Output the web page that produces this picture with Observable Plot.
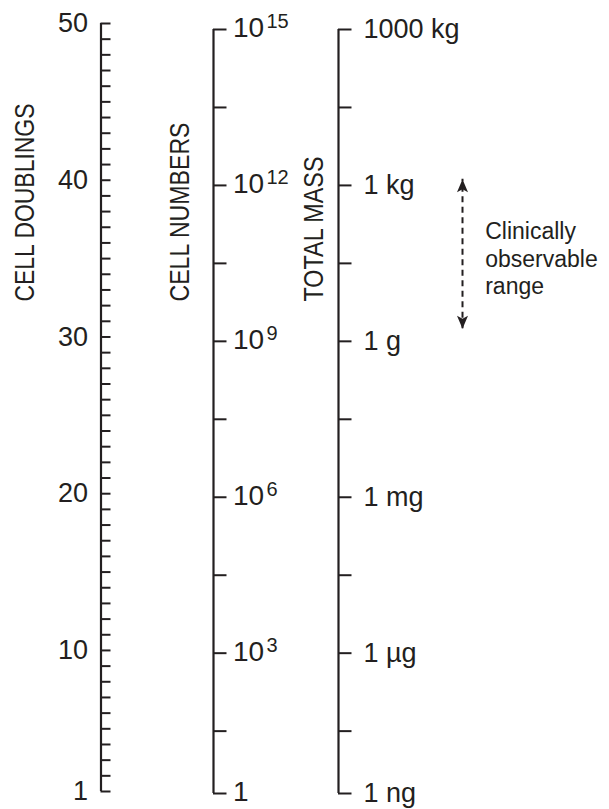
<!DOCTYPE html>
<html>
<head>
<meta charset="utf-8">
<script src="https://cdn.jsdelivr.net/npm/d3@7"></script>
<script src="https://cdn.jsdelivr.net/npm/@observablehq/plot@0.6"></script>
<style>
  html, body { margin: 0; padding: 0; background: #fff; }
  #chart { position: relative; width: 609px; height: 809px; background: #fff; }
  #chart svg { position: absolute; left: 0; top: 0; }
</style>
</head>
<body>
<div id="chart"></div>
<script>
// ---------------- data ----------------
const doublingTicks = [1,2,3,4,5,6,7,8,9,10,11,12,13,14,15,16,17,18,19,20,21,22,23,24,25,26,27,28,29,30,31,32,33,34,35,36,37,38,39,40,41,42,43,44,45,46,47,48,49,50];
const doublingLabels = [1, 10, 20, 30, 40, 50];
// cell-number and mass ticks, expressed in cell-doubling units
const cellTickAt = [1, 5, 10, 15, 20, 25, 30, 35, 40, 45, 50];
const cellLabelAt = [1, 10, 20, 30, 40, 50];
const cellBase = ["1", "10", "10", "10", "10", "10"];
const cellExp = ["", "3", "6", "9", "12", "15"];
const massLabels = ["1 ng", "1 µg", "1 mg", "1 g", "1 kg", "1000 kg"];
const clinicalRange = [30.8, 40.4];
const clinicalLabel = "Clinically\nobservable\nrange";
const titles = ["CELL DOUBLINGS", "CELL NUMBERS", "TOTAL MASS"];

// ---------------- layout / style ----------------
const W = 609, H = 809;
const ink = "#231f20";
const font = "'Liberation Sans', Arial, Helvetica, sans-serif";
const axisX = {doublings: 100.5, cells: 213, mass: 338, arrow: 462};
const titleX = [14, 169, 302.5];
const titleLen = [198, 179, 145];

const arrowHead = {
  draw(ctx) {
    ctx.moveTo(0, 0);
    ctx.lineTo(5.5, 13);
    ctx.lineTo(0, 10);
    ctx.lineTo(-5.5, 13);
    ctx.closePath();
  }
};

const common = {
  width: W, height: H, marginLeft: 0, marginRight: 0,
  x: {domain: [0, W], range: [0, W], axis: null},
  style: {fontFamily: font, color: ink, background: "transparent", overflow: "visible"}
};

// Plot A: cell doublings axis
const plotA = Plot.plot({
  ...common,
  marginTop: 23, marginBottom: 18,
  y: {domain: [1, 50], axis: null},
  marks: [
    Plot.ruleX([0], {x: axisX.doublings, y1: doublingTicks[0], y2: doublingTicks[doublingTicks.length - 1], stroke: ink, strokeWidth: 2.2}),
    Plot.ruleY(doublingTicks, {y: d => d, x1: axisX.doublings, x2: axisX.doublings + 10, stroke: ink, strokeWidth: 2}),
    Plot.text(doublingLabels, {y: d => d, x: axisX.doublings, text: d => String(d), dx: -13, textAnchor: "end", fontSize: 27, fill: ink})
  ]
});

// Plot B: cell numbers, total mass, titles, annotation
const plotB = Plot.plot({
  ...common,
  marginTop: 29, marginBottom: 16,
  y: {domain: [1, 50], axis: null},
  marks: [
    Plot.ruleX(["cells", "mass"], {x: d => axisX[d], y1: cellTickAt[0], y2: cellTickAt[cellTickAt.length - 1], stroke: ink, strokeWidth: 2.2}),
    Plot.ruleY(cellTickAt, {y: d => d, x1: axisX.cells, x2: axisX.cells + 13.5, stroke: ink, strokeWidth: 2}),
    Plot.ruleY(cellTickAt, {y: d => d, x1: axisX.mass, x2: axisX.mass + 13.5, stroke: ink, strokeWidth: 2}),
    Plot.text(cellLabelAt, {y: d => d, x: axisX.cells, text: (d, i) => cellBase[i], dx: 19.5, dy: -1, textAnchor: "start", fontSize: 28, fill: ink}),
    Plot.text(cellLabelAt, {y: d => d, x: axisX.cells, text: (d, i) => cellExp[i], dx: 53, dy: -7.5, textAnchor: "start", fontSize: 20, fill: ink}),
    Plot.text(cellLabelAt, {y: d => d, x: axisX.mass, text: (d, i) => massLabels[i], dx: 25, textAnchor: "start", fontSize: 27, fill: ink}),
    Plot.text(titles, {x: (d, i) => titleX[i], frameAnchor: "top", dy: 272, rotate: -90, textAnchor: "start", fontSize: 28, fill: ink}),
    Plot.ruleX([clinicalRange], {x: axisX.arrow, y1: d => d[0], y2: d => d[1], stroke: ink, strokeWidth: 2, strokeDasharray: "6,4.5"}),
    Plot.dot([clinicalRange[1]], {x: axisX.arrow, y: d => d, symbol: arrowHead, fill: ink, stroke: "none"}),
    Plot.dot([clinicalRange[0]], {x: axisX.arrow, y: d => d, symbol: arrowHead, fill: ink, stroke: "none", rotate: 180}),
    Plot.text([clinicalLabel], {x: axisX.arrow, y: () => (clinicalRange[0] + clinicalRange[1]) / 2, dx: 22.7, dy: 4, textAnchor: "start", lineHeight: 1.19, fontSize: 23, fill: ink})
  ]
});

// condense the rotated axis titles to the reference's narrow lettering
d3.select(plotB).selectAll("text").each(function () {
  const i = titles.indexOf(this.textContent);
  if (i >= 0) {
    this.setAttribute("textLength", titleLen[i]);
    this.setAttribute("lengthAdjust", "spacingAndGlyphs");
  }
});

const chart = document.getElementById("chart");
chart.appendChild(plotA);
chart.appendChild(plotB);
</script>
</body>
</html>
